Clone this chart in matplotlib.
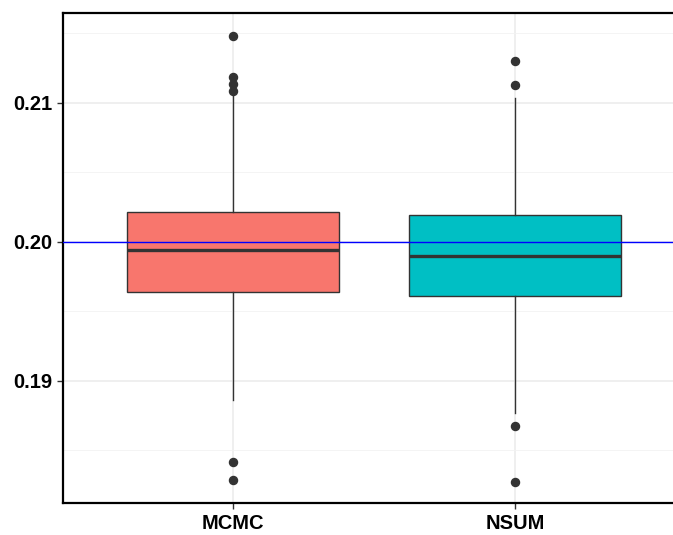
import numpy as np
import matplotlib
matplotlib.use("Agg")
from matplotlib import pyplot as plt

# Summary statistics for each estimator
groups = ["MCMC", "NSUM"]
fill_colors = ["#F8766D", "#00BFC4"]
q1 = [0.19640, 0.19612]
median = [0.19942, 0.19899]
q3 = [0.20216, 0.20194]
whisker_low = [0.18863, 0.18770]
whisker_high = [0.21050, 0.21036]
outliers = [
    [0.21482, 0.21187, 0.21137, 0.21086, 0.18417, 0.18288],
    [0.21302, 0.21130, 0.18678, 0.18273],
]
true_value = 0.20

plt.rcParams["font.family"] = ["Liberation Sans", "DejaVu Sans"]

fig = plt.figure(figsize=(6.73, 5.35), dpi=100)
# panel runs off the right edge a bit
ax = fig.add_axes([63 / 673, (535 - 503) / 535, 622 / 673, 490 / 535])

stats = []
for i, g in enumerate(groups):
    stats.append({
        "label": g, "q1": q1[i], "med": median[i], "q3": q3[i],
        "whislo": whisker_low[i], "whishi": whisker_high[i],
        "fliers": outliers[i],
    })

pos = np.arange(1, len(groups) + 1)
bp = ax.bxp(stats, positions=pos, widths=0.75, patch_artist=True,
            showcaps=False,
            boxprops=dict(edgecolor="#333333", linewidth=1.0),
            medianprops=dict(color="#333333", linewidth=2.4),
            whiskerprops=dict(color="#333333", linewidth=1.0),
            flierprops=dict(marker="o", markerfacecolor="#333333",
                            markeredgecolor="#333333", markersize=5.8))
for patch, c in zip(bp["boxes"], fill_colors):
    patch.set_facecolor(c)
for art in bp["boxes"] + bp["medians"] + bp["whiskers"] + bp["fliers"]:
    art.set_zorder(3)

ax.axhline(true_value, color="blue", linewidth=1.0, zorder=4)

ax.set_xlim(0.4, 2.6)
ax.set_ylim(0.18122, 0.21647)
ax.set_yticks([0.19, 0.20, 0.21])
ax.set_yticklabels(["0.19", "0.20", "0.21"])
ax.set_yticks([0.185, 0.195, 0.205, 0.215], minor=True)
ax.set_xticks(pos)
ax.set_xticklabels(groups)

ax.grid(True, which="major", color="#ebebeb", linewidth=1.1, zorder=0)
ax.grid(True, which="minor", axis="y", color="#f2f2f2", linewidth=0.6, zorder=0)
ax.set_axisbelow(True)

for side in ["left", "bottom", "top"]:
    ax.spines[side].set_color("black")
    ax.spines[side].set_linewidth(1.6)
ax.spines["right"].set_visible(False)

ax.tick_params(axis="both", which="major", length=4, width=1.0, color="#333333",
               labelsize=14.5, labelcolor="black", pad=4)
ax.tick_params(axis="y", which="minor", length=0)
for lab in ax.get_xticklabels() + ax.get_yticklabels():
    lab.set_fontweight("bold")

fig.savefig("out.png", dpi=100)
